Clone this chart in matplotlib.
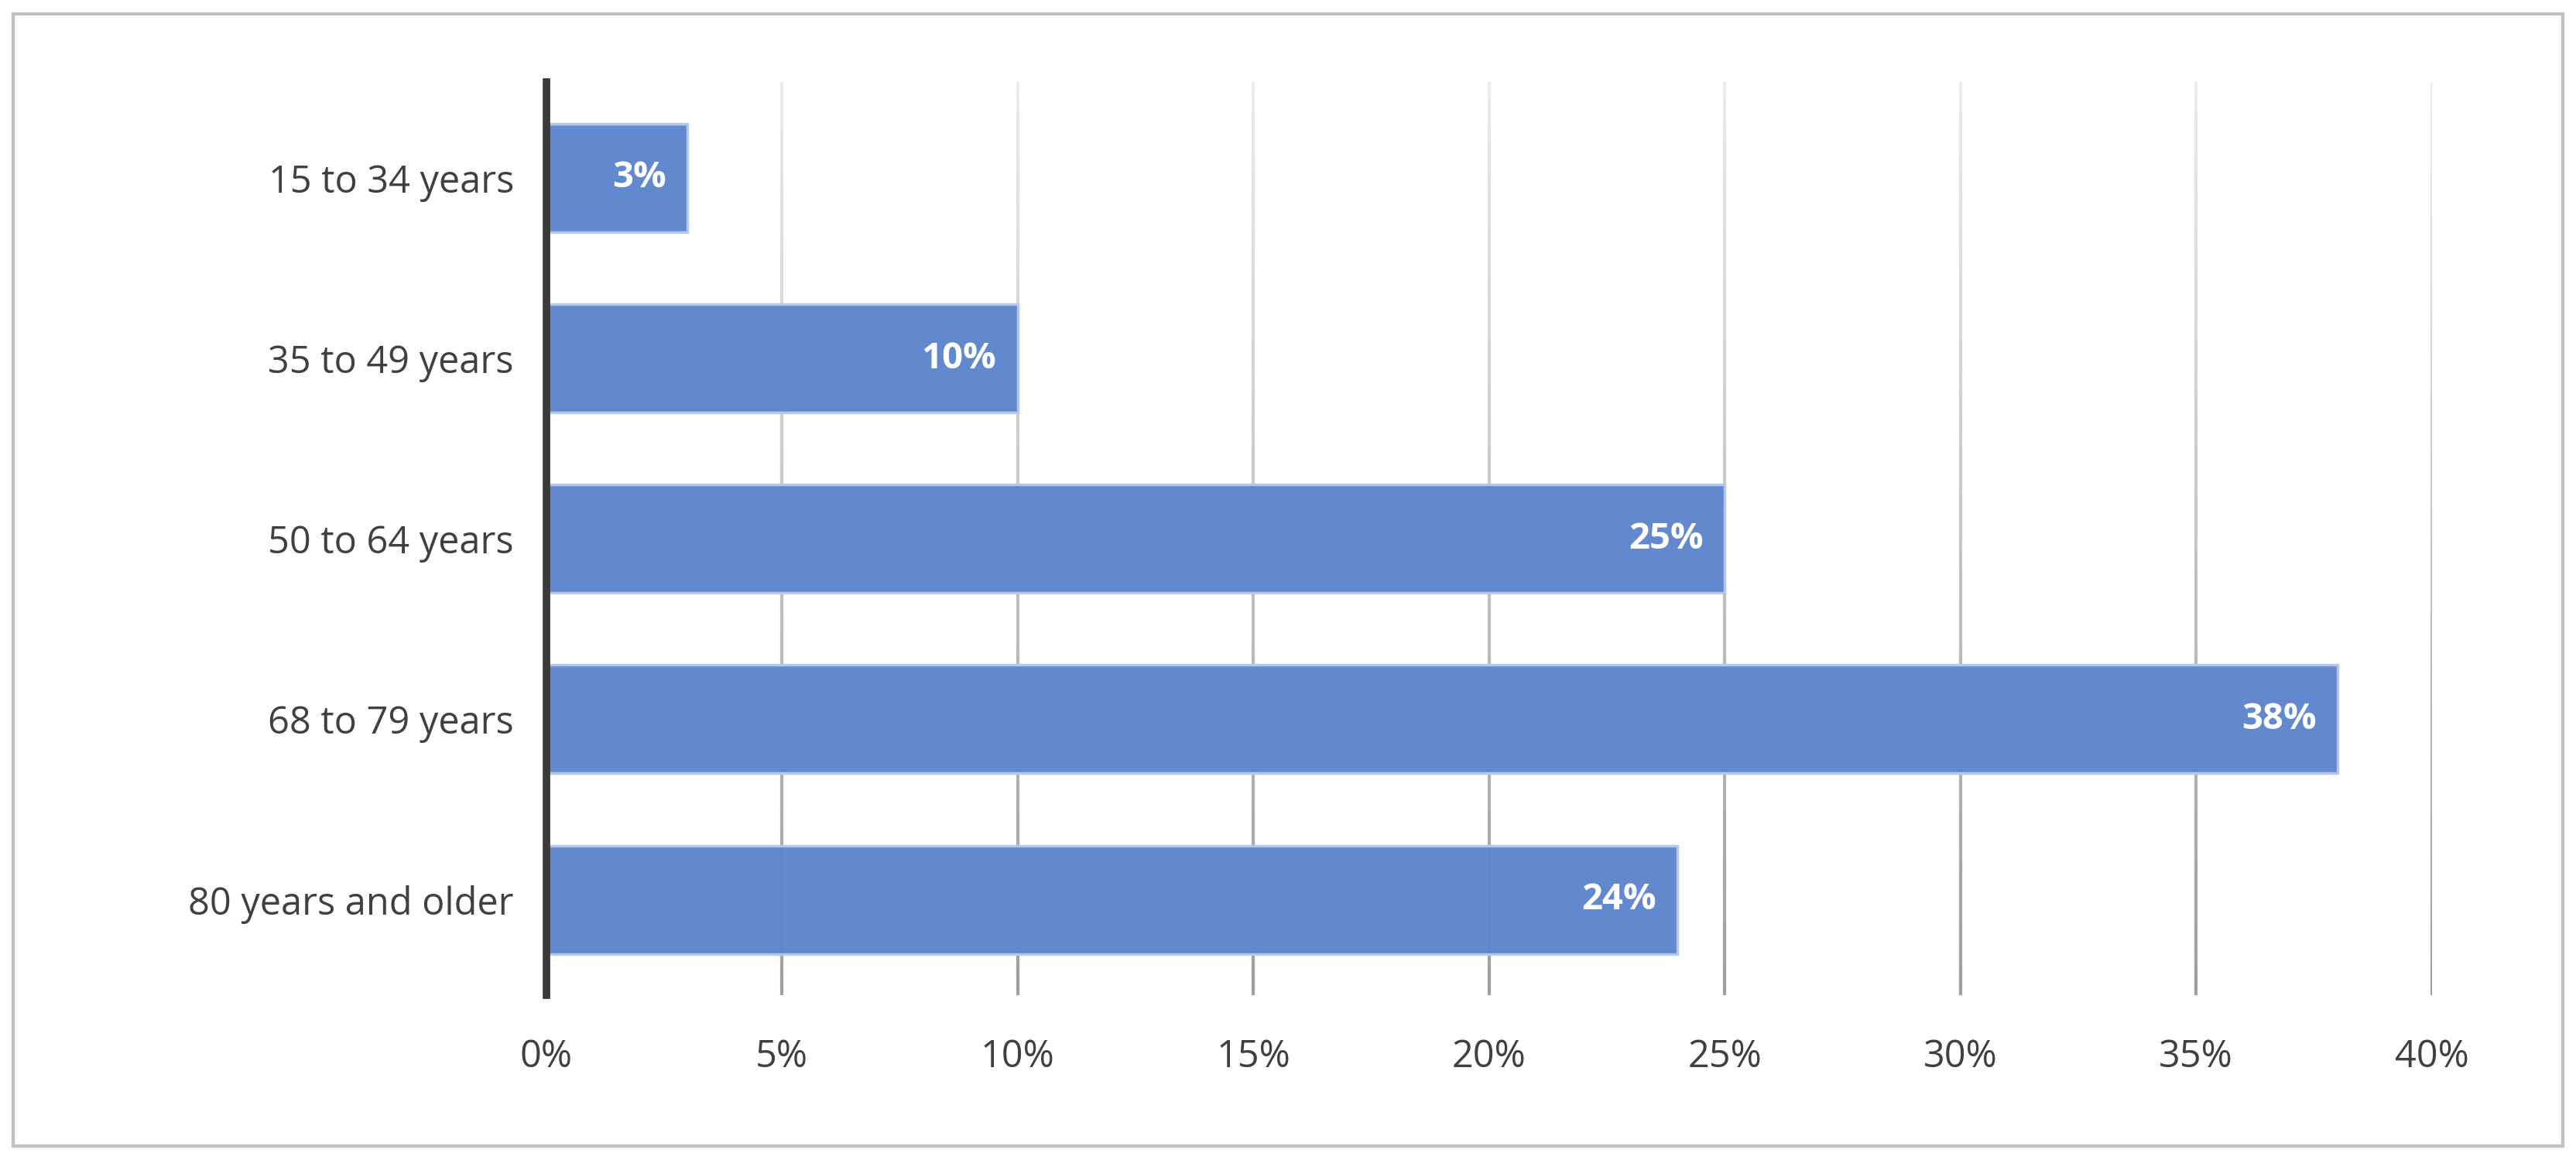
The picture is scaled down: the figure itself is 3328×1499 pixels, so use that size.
import matplotlib
matplotlib.use("Agg")
import matplotlib.pyplot as plt
import numpy as np
from matplotlib.collections import LineCollection
from matplotlib.patches import Rectangle

categories = ["15 to 34 years", "35 to 49 years", "50 to 64 years", "68 to 79 years", "80 years and older"]
values = [3, 10, 25, 38, 24]
xticks = [0, 5, 10, 15, 20, 25, 30, 35, 40]

plt.rcParams['font.family'] = ['Open Sans', 'DejaVu Sans']
fig = plt.figure(figsize=(33.28, 14.99), dpi=100)
fig.patches.append(Rectangle((0.005, 0.012), 0.99, 0.976, transform=fig.transFigure,
                             fill=False, edgecolor='#bfbfbf', linewidth=3))
ax = fig.add_axes([0.212, 0.142, 0.732, 0.787])
y = np.arange(len(categories))
ax.set_ylim(len(categories) - 0.5 + 0.03, -0.5 - 0.03)
ax.set_xlim(0, 40)

# gradient gridlines
n = 60
ys = np.linspace(ax.get_ylim()[1], ax.get_ylim()[0], n + 1)
for xt in xticks[1:]:
    segs = [[(xt, ys[i]), (xt, ys[i + 1])] for i in range(n)]
    cols = [(g, g, g) for g in np.linspace(0.92, 0.62, n)]
    ax.add_collection(LineCollection(segs, colors=cols, linewidths=3, zorder=0))

bars = ax.barh(y, values, height=0.6, color='#5f87cc', edgecolor='#b4c8ec', linewidth=2.5, zorder=2, alpha=0.98)
for yi, v in zip(y, values):
    ax.text(v - 0.45, yi, f"{v}%", ha='right', va='center', color='white',
            fontsize=34, fontweight='bold', zorder=3)

ax.set_yticks(y)
ax.set_yticklabels(categories, fontsize=35, color='#404040')
ax.set_xticks(xticks)
ax.set_xticklabels([f"{t}%" for t in xticks], fontsize=35, color='#404040')
ax.tick_params(axis='both', length=0, pad=30)
ax.tick_params(axis='x', pad=40)
for s in ['top', 'right', 'bottom']:
    ax.spines[s].set_visible(False)
ax.spines['left'].set_linewidth(7)
ax.spines['left'].set_color('#3a3a3a')
ax.spines['left'].set_zorder(4)
fig.savefig("out.png", dpi=100)
